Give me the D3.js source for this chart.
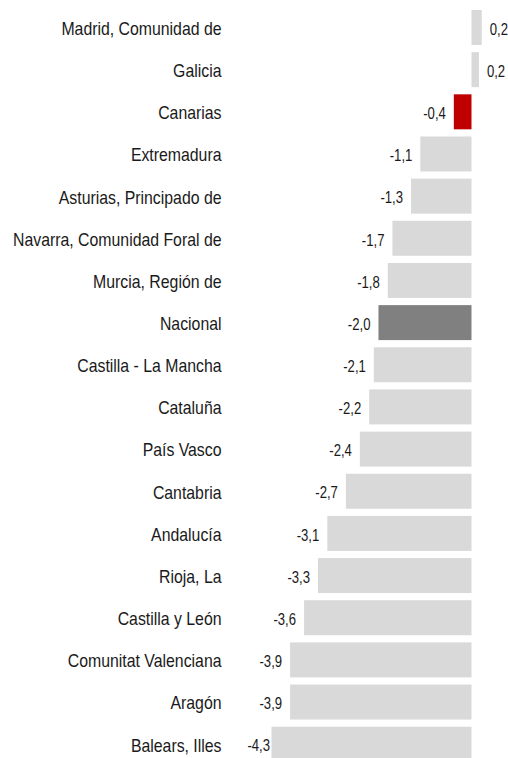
<!DOCTYPE html>
<html>
<head>
<meta charset="utf-8">
<script src="https://cdn.jsdelivr.net/npm/d3@7"></script>
<style>
  body { margin: 0; background: #fff; }
  text { font-family: 'Liberation Sans', Arial, sans-serif; fill: #1a1a1a; }
</style>
</head>
<body>
<div class="chart"></div>
<script>
// regions, top to bottom as in the picture
const regions = [
	'Madrid, Comunidad de',
	'Galicia',
	'Canarias',
	'Extremadura',
	'Asturias, Principado de',
	'Navarra, Comunidad Foral de',
	'Murcia, Región de',
	'Nacional',
	'Castilla - La Mancha',
	'Cataluña',
	'País Vasco',
	'Cantabria',
	'Andalucía',
	'Rioja, La',
	'Castilla y León',
	'Comunitat Valenciana',
	'Aragón',
	'Balears, Illes'
];

// variation values
const values = [0.22, 0.16, -0.38, -1.1, -1.3, -1.7, -1.8, -2.0, -2.1, -2.2, -2.4, -2.7, -3.1, -3.3, -3.6, -3.9, -3.9, -4.3];

// which bars get a special colour
const highlight = { Canarias: '#c00000', Nacional: '#808080' };

const data = regions.map((r, i) => ({ region: r, value: values[i] }));

const width = 508;
const height = 758;

const svg = d3.select('.chart').append('svg').attr('width', width).attr('height', height);

const x = d3
	.scaleLinear()
	.domain([ -4.3, 0.5 ])
	.range([ 271.5, 471.5 + 0.5 * 46.5 ]);

const y = d3
	.scaleBand()
	.domain(regions)
	.range([ 10, 761.7 ])
	.paddingInner(0.17)
	.paddingOuter(0);

// spanish style: comma decimals, plain hyphen for minus
const fmt = (v) => d3.format('.1f')(v).replace('.', ',').replace('\u2212', '-');

// no narrow font installed, so squeeze the text horizontally
const narrowVal = 0.82;
const narrowCat = 0.88;

// bars
svg
	.selectAll('rect.bar')
	.data(data)
	.enter()
	.append('rect')
	.attr('class', 'bar')
	.attr('x', (d) => x(Math.min(0, d.value)))
	.attr('y', (d) => y(d.region))
	.attr('width', (d) => Math.abs(x(d.value) - x(0)))
	.attr('height', y.bandwidth())
	.attr('fill', (d) => highlight[d.region] || '#d9d9d9');

// value labels
svg
	.selectAll('text.val')
	.data(data)
	.enter()
	.append('text')
	.attr('class', 'val')
	.attr('transform', (d) => {
		const tx = d.value < 0 ? Math.max(x(d.value) - 8, 270) : x(d.value) + 8;
		return `translate(${tx},${y(d.region) + y.bandwidth() / 2}) scale(${narrowVal},1)`;
	})
	.attr('dy', '0.45em')
	.attr('text-anchor', (d) => (d.value < 0 ? 'end' : 'start'))
	.style('font-size', '16px')
	.text((d) => fmt(d.value));

// category labels
svg
	.selectAll('text.cat')
	.data(data)
	.enter()
	.append('text')
	.attr('class', 'cat')
	.attr('transform', (d) => `translate(221.5,${y(d.region) + y.bandwidth() / 2}) scale(${narrowCat},1)`)
	.attr('dy', '0.41em')
	.attr('text-anchor', 'end')
	.style('font-size', '18px')
	.text((d) => d.region);
</script>
</body>
</html>
